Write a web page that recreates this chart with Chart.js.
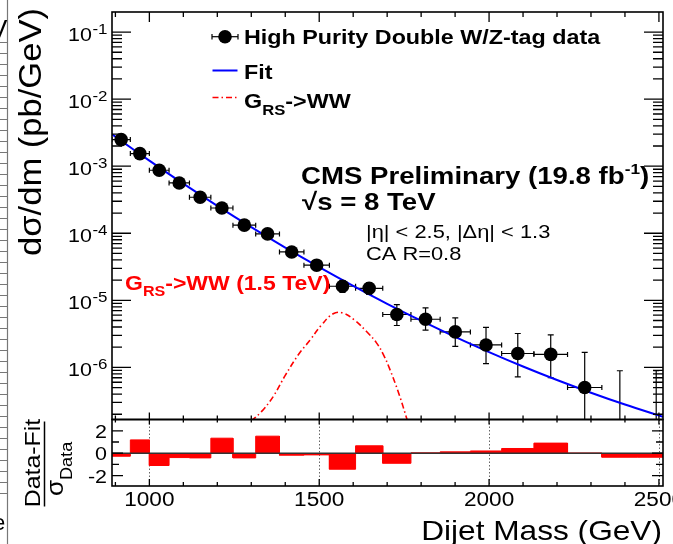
<!DOCTYPE html>
<html>
<head>
<meta charset="utf-8">
<script src="https://cdn.jsdelivr.net/npm/chart.js@4.4.1/dist/chart.umd.min.js"></script>
<style>
  html, body { margin: 0; padding: 0; background: #fff; }
  #wrap { position: relative; width: 673px; height: 544px; }
</style>
</head>
<body>
<div id="wrap"><canvas id="graphic" width="673" height="544"></canvas></div>
<script>
// dijet mass bins (GeV)
const binEdges = [890, 944, 1000, 1058, 1118, 1181, 1246, 1313, 1383, 1455, 1530, 1607, 1687, 1770, 1856, 1945, 2037, 2132, 2231, 2332, 2438, 2546];
const dataMass = [917, 972, 1029, 1088, 1149.5, 1213.5, 1279.5, 1348, 1419, 1492.5, 1568.5, 1647, 1728.5, 1813, 1900.5, 1991, 2084.5, 2181.5, 2281.5, 2385, 2492];
// dsigma/dm (pb/GeV), 0 = empty bin
const dataXsec = [2.49e-3, 1.54e-3, 8.69e-4, 5.62e-4, 3.44e-4, 2.38e-4, 1.32e-4, 9.77e-5, 5.26e-5, 3.34e-5, 1.62e-5, 1.51e-5, 6.14e-6, 5.22e-6, 3.38e-6, 2.16e-6, 1.61e-6, 1.56e-6, 5.01e-7, 0, 0];
const errHigh = [2.54e-3, 1.58e-3, 8.97e-4, 5.84e-4, 3.61e-4, 2.52e-4, 1.42e-4, 1.06e-4, 5.9e-5, 3.82e-5, 1.96e-5, 1.83e-5, 8.65e-6, 7.7e-6, 5.47e-6, 3.94e-6, 3.2e-6, 3.05e-6, 1.67e-6, 8.9e-7, 8.9e-7];
const errLow = [2.44e-3, 1.50e-3, 8.41e-4, 5.40e-4, 3.28e-4, 2.25e-4, 1.22e-4, 8.93e-5, 4.7e-5, 2.88e-5, 1.31e-5, 1.22e-5, 4.21e-6, 3.58e-6, 2.05e-6, 1.14e-6, 7.2e-7, 7.0e-7, 0, 0, 0];

const fitMass = [890, 950, 1000, 1100, 1200, 1300, 1400, 1500, 1600, 1700, 1800, 1900, 2000, 2100, 2200, 2300, 2400, 2512];
const fitXsec = [2.99e-3, 1.82e-3, 1.21e-3, 5.48e-4, 2.56e-4, 1.23e-4, 6.1e-5, 3.12e-5, 1.64e-5, 8.87e-6, 4.97e-6, 2.85e-6, 1.69e-6, 1.03e-6, 6.47e-7, 4.19e-7, 2.79e-7, 1.83e-7];

const sigMass = [1300, 1330, 1364, 1400, 1440, 1472, 1505, 1541, 1570, 1605, 1640, 1668, 1690, 1708, 1735, 1760];
const sigXsec = [1.58e-7, 2.19e-7, 3.63e-7, 7.59e-7, 1.58e-6, 2.51e-6, 4.17e-6, 6.31e-6, 6.46e-6, 5.01e-6, 3.39e-6, 2.34e-6, 1.51e-6, 9.33e-7, 3.98e-7, 1.58e-7];

// (data-fit)/sigma per bin
const pulls = [-0.27, 1.19, -1.10, -0.39, -0.42, 1.34, -0.42, 1.52, -0.18, -0.15, -1.43, 0.66, -0.90, 0.03, 0.12, 0.20, 0.42, 0.90, 0.02, -0.36, -0.36];

const yTickExp = [-1, -2, -3, -4, -5, -6];
const xTickLabels = [1000, 1500, 2000, 2500];
const pullTicks = [2, 0, -2];

const FONT = '"Liberation Sans", Arial, Helvetica, sans-serif';
const SX = 1.13; // ROOT text is a bit wider than Arial

function drawText(ctx, str, x, y, size, opts = {}) {
  ctx.save();
  ctx.translate(x, y);
  if (opts.rot) ctx.rotate(opts.rot);
  ctx.scale(opts.sx || SX, 1);
  ctx.font = (opts.bold ? 'bold ' : '') + size + 'px ' + FONT;
  ctx.fillStyle = opts.color || '#000';
  ctx.textAlign = opts.align || 'left';
  ctx.textBaseline = 'alphabetic';
  ctx.fillText(str, 0, 0);
  const w = ctx.measureText(str).width * (opts.sx || SX);
  ctx.restore();
  return w;
}

// step histogram points for the pull panel
const pullPoints = [];
pulls.forEach((p, i) => {
  pullPoints.push({ x: binEdges[i], y: p });
  pullPoints.push({ x: binEdges[i + 1], y: p });
});

const errorBars = {
  id: 'errorBars',
  beforeDatasetsDraw(chart) {
    const { ctx, scales: { x, y } } = chart;
    ctx.save();
    ctx.beginPath();
    ctx.rect(x.left, y.top, x.right - x.left, y.bottom - y.top);
    ctx.clip();
    ctx.strokeStyle = '#000';
    ctx.lineWidth = 1.2;
    dataMass.forEach((m, i) => {
      const px = x.getPixelForValue(m);
      const yt = y.getPixelForValue(errHigh[i]);
      const yb = errLow[i] > 0 ? y.getPixelForValue(errLow[i]) : y.bottom + 2;
      ctx.beginPath();
      ctx.moveTo(px, yt); ctx.lineTo(px, yb);
      ctx.moveTo(px - 3, yt); ctx.lineTo(px + 3, yt);
      if (errLow[i] > 0) { ctx.moveTo(px - 3, yb); ctx.lineTo(px + 3, yb); }
      if (dataXsec[i] > 0) {
        const py = y.getPixelForValue(dataXsec[i]);
        const xl = x.getPixelForValue(binEdges[i]);
        const xr = x.getPixelForValue(binEdges[i + 1]);
        ctx.moveTo(xl, py); ctx.lineTo(xr, py);
        ctx.moveTo(xl, py - 2.5); ctx.lineTo(xl, py + 2.5);
        ctx.moveTo(xr, py - 2.5); ctx.lineTo(xr, py + 2.5);
      }
      ctx.stroke();
    });
    ctx.restore();

    // dotted grid in the pull panel
    const r = chart.scales.res;
    ctx.save();
    ctx.strokeStyle = '#666';
    ctx.lineWidth = 1;
    ctx.setLineDash([1.5, 2]);
    xTickLabels.forEach((v) => {
      const px = Math.round(x.getPixelForValue(v)) + 0.5;
      ctx.beginPath(); ctx.moveTo(px, r.top); ctx.lineTo(px, r.bottom); ctx.stroke();
    });
    ctx.restore();
  },
};

const frame = {
  id: 'frame',
  afterDraw(chart) {
    const { ctx, scales: { x, y, res } } = chart;
    ctx.save();
    ctx.strokeStyle = '#000';
    ctx.lineWidth = 1.3;

    // x ticks every 100 GeV
    ctx.beginPath();
    for (let v = 900; v <= 2500; v += 100) {
      const px = x.getPixelForValue(v);
      const major = v % 500 === 0;
      ctx.moveTo(px, y.top); ctx.lineTo(px, y.top + (major ? 10 : 5));
      ctx.moveTo(px, y.bottom); ctx.lineTo(px, y.bottom - (major ? 7 : 4));
      ctx.moveTo(px, res.top); ctx.lineTo(px, res.top + (major ? 5 : 3));
      ctx.moveTo(px, res.bottom); ctx.lineTo(px, res.bottom - (major ? 7 : 4));
    }
    // log y ticks on both sides
    for (let e = -7; e <= -1; e++) {
      for (let k = 1; k <= 9; k++) {
        const v = k * Math.pow(10, e);
        if (v < y.min || v > y.max) continue;
        const py = y.getPixelForValue(v);
        const len = k === 1 ? 19 : 10;
        ctx.moveTo(x.left, py); ctx.lineTo(x.left + len, py);
        ctx.moveTo(x.right, py); ctx.lineTo(x.right - len, py);
      }
    }
    // pull ticks
    for (let v = -2; v <= 2; v++) {
      const py = res.getPixelForValue(v);
      const len = v % 2 === 0 ? 11 : 7;
      ctx.moveTo(x.left, py); ctx.lineTo(x.left + len, py);
      ctx.moveTo(x.right, py); ctx.lineTo(x.right - len, py);
    }
    ctx.stroke();

    ctx.lineWidth = 1.6;
    ctx.strokeRect(x.left, y.top, x.right - x.left, y.bottom - y.top);
    ctx.strokeRect(x.left, res.top, x.right - x.left, res.bottom - res.top);
    ctx.restore();

    // y tick labels 10^n
    yTickExp.forEach((e) => {
      const py = y.getPixelForValue(Math.pow(10, e));
      ctx.save();
      ctx.font = '15px ' + FONT;
      const ws = ctx.measureText(String(e)).width * SX;
      ctx.font = '19px ' + FONT;
      const wb = ctx.measureText('10').width * SX;
      ctx.restore();
      const x0 = 107 - ws - wb;
      drawText(ctx, '10', x0, py + 9, 19);
      drawText(ctx, String(e), x0 + wb + 0.5, py + 2, 15);
    });
    pullTicks.forEach((v) => {
      drawText(ctx, String(v), 107, res.getPixelForValue(v) + 7, 19, { align: 'right' });
    });
    xTickLabels.forEach((v) => {
      drawText(ctx, String(v), x.getPixelForValue(v), 506, 20, { align: 'center' });
    });

    // axis titles
    drawText(ctx, 'Dijet Mass (GeV)', 662, 540, 28, { align: 'right' });
    drawText(ctx, 'dσ/dm (pb/GeV)', 41, 8, 32, { align: 'right', rot: -Math.PI / 2, sx: 1.08 });
    drawText(ctx, 'Data-Fit', 39.5, 463, 22, { align: 'center', rot: -Math.PI / 2 });
    ctx.save();
    ctx.strokeStyle = '#000'; ctx.lineWidth = 1.5;
    ctx.beginPath(); ctx.moveTo(44.5, 421.5); ctx.lineTo(44.5, 506.5); ctx.stroke();
    ctx.restore();
    drawText(ctx, 'σ', 63, 496, 23, { rot: -Math.PI / 2 });
    drawText(ctx, 'Data', 72, 480, 16, { rot: -Math.PI / 2 });

    // legend
    ctx.save();
    ctx.strokeStyle = '#000'; ctx.lineWidth = 1.2;
    ctx.beginPath(); ctx.moveTo(212, 36.7); ctx.lineTo(238, 36.7); ctx.stroke();
    ctx.beginPath(); ctx.moveTo(212, 34); ctx.lineTo(212, 39.4); ctx.moveTo(238, 34); ctx.lineTo(238, 39.4); ctx.stroke();
    ctx.fillStyle = '#000';
    ctx.beginPath(); ctx.arc(225, 36.7, 6.8, 0, Math.PI * 2); ctx.fill();
    ctx.strokeStyle = '#0000ff'; ctx.lineWidth = 2;
    ctx.beginPath(); ctx.moveTo(212.5, 70.5); ctx.lineTo(237.5, 70.5); ctx.stroke();
    ctx.strokeStyle = '#ff0000'; ctx.lineWidth = 1.5; ctx.setLineDash([6, 3, 1.5, 3]);
    ctx.beginPath(); ctx.moveTo(212.5, 97.5); ctx.lineTo(237.5, 97.5); ctx.stroke();
    ctx.restore();
    drawText(ctx, 'High Purity Double W/Z-tag data', 244, 43.5, 21, { bold: true, sx: 1.11 });
    drawText(ctx, 'Fit', 244, 78.5, 21, { bold: true, sx: 1.11 });
    let lx = 244;
    lx += drawText(ctx, 'G', lx, 107.5, 21, { bold: true, sx: 1.11 });
    lx += drawText(ctx, 'RS', lx, 114.5, 15, { bold: true, sx: 1.11 });
    drawText(ctx, '->WW', lx, 107.5, 21, { bold: true, sx: 1.11 });

    // CMS labels
    let cx = 301;
    cx += drawText(ctx, 'CMS Preliminary (19.8 fb', cx, 184, 24, { bold: true, sx: 1.15 });
    cx += drawText(ctx, '-1', cx, 174, 15, { bold: true, sx: 1.15 });
    drawText(ctx, ')', cx, 184, 24, { bold: true, sx: 1.15 });
    drawText(ctx, '√s = 8 TeV', 302, 210, 24, { bold: true, sx: 1.15 });
    drawText(ctx, '|η| < 2.5, |Δη| < 1.3', 366, 237.5, 19, { sx: 1.15 });
    drawText(ctx, 'CA R=0.8', 366, 260, 19, { sx: 1.15 });

    // signal label
    let gx = 125;
    gx += drawText(ctx, 'G', gx, 290, 20, { bold: true, color: '#ff0000', sx: 1.15 });
    gx += drawText(ctx, 'RS', gx, 296, 14, { bold: true, color: '#ff0000', sx: 1.15 });
    drawText(ctx, '->WW (1.5 TeV)', gx, 290, 20, { bold: true, color: '#ff0000', sx: 1.15 });

    // edge of the neighbouring figure
    ctx.save();
    ctx.strokeStyle = '#777'; ctx.lineWidth = 1.2;
    ctx.beginPath(); ctx.moveTo(7.5, 0); ctx.lineTo(7.5, 544);
    for (let t = 42; t < 500; t += 11) { ctx.moveTo(0, t + 0.5); ctx.lineTo(7, t + 0.5); }
    ctx.stroke();
    ctx.restore();
    drawText(ctx, 'V', -10, 38, 26, { sx: 1 });
    drawText(ctx, 'e', -7, 530, 22, { sx: 1 });
  },
};

const ctx = document.getElementById('graphic').getContext('2d');
const chart = new Chart(ctx, {
  type: 'line',
  data: {
    datasets: [
      {
        label: 'High Purity Double W/Z-tag data',
        data: dataMass.map((m, i) => ({ x: m, y: dataXsec[i] > 0 ? dataXsec[i] : null })),
        yAxisID: 'y',
        showLine: false,
        pointRadius: 6.8,
        pointBackgroundColor: '#000',
        pointBorderWidth: 0,
      },
      {
        label: 'Fit',
        data: fitMass.map((m, i) => ({ x: m, y: fitXsec[i] })),
        yAxisID: 'y',
        borderColor: '#0000ff',
        borderWidth: 2,
        pointRadius: 0,
        cubicInterpolationMode: 'monotone',
      },
      {
        label: 'GRS->WW',
        data: sigMass.map((m, i) => ({ x: m, y: sigXsec[i] })),
        yAxisID: 'y',
        borderColor: '#ff0000',
        borderWidth: 1.6,
        borderDash: [6, 3, 1.5, 3],
        pointRadius: 0,
        tension: 0.4,
      },
      {
        label: 'zero',
        data: [{ x: 890, y: 0 }, { x: 2512, y: 0 }],
        yAxisID: 'res',
        borderColor: '#333',
        borderWidth: 1.5,
        pointRadius: 0,
      },
      {
        label: 'pull',
        data: pullPoints,
        yAxisID: 'res',
        borderColor: '#ff0000',
        borderWidth: 1,
        backgroundColor: '#ff0000',
        fill: 'origin',
        pointRadius: 0,
      },
    ],
  },
  options: {
    responsive: false,
    animation: false,
    layout: { padding: { left: 112, right: 10, top: 12, bottom: 58 } },
    plugins: { legend: { display: false }, tooltip: { enabled: false } },
    scales: {
      x: { type: 'linear', min: 890, max: 2512, display: false },
      res: { type: 'linear', min: -2.93, max: 3.01, display: false, position: 'left', stack: 'panels', stackWeight: 66.5 },
      y: { type: 'logarithmic', min: 1.67e-7, max: 0.199, display: false, position: 'left', stack: 'panels', stackWeight: 407.5 },
    },
  },
  plugins: [errorBars, frame],
});
</script>
</body>
</html>
